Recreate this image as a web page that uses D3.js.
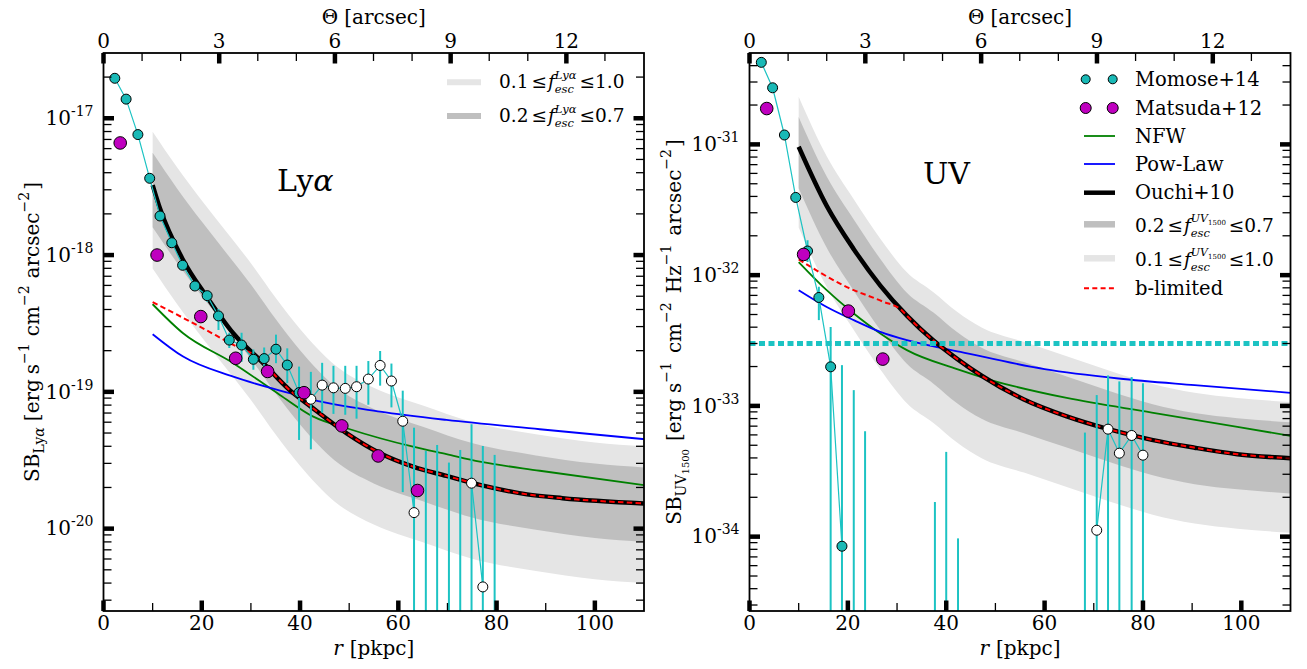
<!DOCTYPE html>
<html>
<head>
<meta charset="utf-8">
<script src="https://cdn.jsdelivr.net/npm/d3@7"></script>
<style>
    body { margin: 0; background: #fff; }
    svg { display: block; }
    text { font-family: "DejaVu Serif", serif; fill: #000; white-space: pre; }
</style>
</head>
<body>
<div id="chart"></div>
<script>

// Data
// ============================================

// arcsec -> pkpc conversion used for the top axis
var arcsecToKpc = 7.85;
var rMajor = [0, 20, 40, 60, 80, 100];
var rMinor = [10, 30, 50, 70, 90];
var thetaMajor = [0, 3, 6, 9, 12];
var thetaMinor = [1, 2, 4, 5, 7, 8, 10, 11, 13];

// escape fraction ranges of the shaded model bands
var fescWide = [0.1, 1.0];
var fescNarrow = [0.2, 0.7];

// ---- Ly-alpha panel ----
var lyaMomoseR = [2.3, 4.6, 7.0, 9.4, 11.5, 13.9, 16.1, 18.6, 21.1, 23.4, 25.6, 28.1, 30.5, 32.7, 35.1, 37.4, 39.8,
    42.2, 44.5, 46.8, 49.2, 51.5, 53.9, 56.3, 58.6, 60.9, 63.2, 65.6, 67.9, 70.3, 72.6, 74.9, 77.2, 79.6];
var lyaMomoseSB = [1.96e-17, 1.38e-17, 7.6e-18, 3.64e-18, 1.93e-18, 1.23e-18, 8.42e-19, 5.94e-19, 5.05e-19, 3.59e-19,
    2.39e-19, 2.20e-19, 1.73e-19, 1.75e-19, 2.05e-19, 1.57e-19, 9.87e-20,
    8.83e-20, 1.12e-19, 1.07e-19, 1.06e-19, 1.09e-19, 1.24e-19, 1.56e-19, 1.20e-19, 6.1e-20, 1.31e-20,
    null, null, null, null, 2.15e-20, 3.75e-21, null];
var lyaMomoseLo = [null, null, null, null, null, null, null, null, 4.56e-19, 2.83e-19, 2.09e-19, 1.66e-19, 1.45e-19,
    1.44e-19, 1.62e-19, 1.16e-19, 4.45e-20, 3.8e-20, 7.05e-20, 6.9e-20, 6.8e-20, 6.37e-20, 8.05e-20, 1.11e-19,
    7.7e-20, 1.85e-20, 0, 0, 0, 0, 0, 0, 0, 0];
var lyaMomoseHi = [null, null, null, null, null, null, null, null, 5.4e-19, 4.04e-19, 2.70e-19, 2.70e-19, 2.04e-19,
    2.11e-19, 2.62e-19, 2.08e-19, 1.53e-19, 1.40e-19, 1.63e-19, 1.55e-19, 1.55e-19, 1.55e-19, 1.68e-19, 1.99e-19,
    1.61e-19, 1.02e-19, 5.47e-20, 3.70e-20, 4.09e-20, 3.04e-20, 3.76e-20, 5.8e-20, 4.02e-20, 3.46e-20];
var lyaOpenFrom = 17;

var lyaMatsudaR = [3.4, 10.9, 19.8, 26.9, 33.4, 40.8, 48.5, 55.9, 63.9];
var lyaMatsudaSB = [6.6e-18, 1.0e-18, 3.55e-19, 1.76e-19, 1.41e-19, 9.86e-20, 5.64e-20, 3.40e-20, 1.90e-20];

var lyaOuchiR = [10, 11.5, 16.2, 21.0, 26.4, 32.5, 37.9, 42.2, 49.5, 56.3, 63.0, 69.8, 76.6, 86.2, 93.4, 110];
var lyaOuchiSB = [3.25e-18, 2.19e-18, 9.2e-19, 4.97e-19, 2.68e-19, 1.62e-19, 1.03e-19, 7.8e-20, 4.98e-20, 3.56e-20,
    2.84e-20, 2.43e-20, 2.09e-20, 1.78e-20, 1.67e-20, 1.53e-20];
var lyaBlimR = [10, 19.6, 27.8, 31.0, 32.5, 37.9, 42.2, 49.5, 56.3, 63.0, 69.8, 76.6, 86.2, 93.4, 110];
var lyaBlimSB = [4.52e-19, 3.0e-19, 2.08e-19, 1.83e-19, 1.62e-19, 1.03e-19, 7.8e-20, 4.98e-20, 3.56e-20, 2.84e-20,
    2.43e-20, 2.09e-20, 1.78e-20, 1.67e-20, 1.53e-20];
var lyaNfwR = [10, 16.2, 26.4, 35.9, 42.7, 49.5, 56.3, 63.0, 69.8, 76.6, 88.8, 110];
var lyaNfwSB = [4.37e-19, 2.68e-19, 1.62e-19, 9.5e-20, 6.59e-20, 5.42e-20, 4.58e-20, 3.97e-20, 3.50e-20, 3.09e-20,
    2.65e-20, 2.08e-20];
var lyaPowR = [10, 16.2, 26.4, 37.9, 42.7, 56.3, 69.8, 88.8, 110];
var lyaPowSB = [2.64e-19, 1.81e-19, 1.29e-19, 9.77e-20, 8.73e-20, 7.17e-20, 6.23e-20, 5.33e-20, 4.51e-20];
// upper edge of the models (f_esc = 1)
var lyaBandR = [10, 15, 20, 25, 30, 35, 40, 47, 55, 65, 75, 88, 100, 110];
var lyaBandTop = [7.98e-18, 4.37e-18, 2.51e-18, 1.48e-18, 8.71e-19, 4.90e-19, 2.88e-19, 1.58e-19, 1.07e-19, 7.94e-20,
    6.03e-20, 4.90e-20, 4.27e-20, 4.0e-20];

// ---- UV panel ----
var uvMomoseR = [2.4, 4.7, 7.1, 9.4, 11.8, 14.1, 16.5, 18.8, 21.2, 23.5, 37.7, 40.0, 42.4, 68.2, 70.6, 72.9, 75.2, 77.7, 80.0];
var uvMomoseSB = [4.24e-31, 2.71e-31, 1.18e-31, 3.93e-32, 1.53e-32, 6.75e-33, 1.99e-33, 8.45e-35, null, null, null,
    null, null, null, 1.12e-34, 6.64e-34, 4.35e-34, 5.94e-34, 4.20e-34];
var uvMomoseLo = [null, null, null, null, 1.26e-32, 4.53e-33, 0, 0, 0, 0, 0, 0, 0, 0, 0, 0, 0, 0, 0];
var uvMomoseHi = [null, null, null, null, 1.85e-32, 8.15e-33, 4.02e-33, 2.05e-33, 1.32e-33, 6.4e-34, 1.84e-34, 4.45e-34,
    9.7e-35, 6.25e-34, 1.21e-33, 1.71e-33, 1.54e-33, 1.66e-33, 1.49e-33];
var uvOpenFrom = 14;

var uvMatsudaR = [3.5, 11.0, 20.1, 27.1];
var uvMatsudaSB = [1.88e-31, 1.44e-32, 5.31e-33, 2.28e-33];

var uvOuchiR = [10, 15.7, 21.2, 26.6, 32.0, 37.4, 42.2, 47.2, 55.8, 64.5, 73.2, 81.8, 90.5, 99.2, 110];
var uvOuchiSB = [9.6e-32, 3.39e-32, 1.58e-32, 8.32e-33, 4.90e-33, 3.16e-33, 2.29e-33, 1.70e-33, 1.12e-33, 8.32e-34,
    6.61e-34, 5.50e-34, 4.79e-34, 4.27e-34, 3.98e-34];
var uvBlimR = [10, 19.8, 27.0, 31.0, 32.0, 37.4, 42.2, 47.2, 55.8, 64.5, 73.2, 81.8, 90.5, 99.2, 110];
var uvBlimSB = [1.32e-32, 8.1e-33, 6.3e-33, 5.37e-33, 4.90e-33, 3.16e-33, 2.29e-33, 1.70e-33, 1.12e-33, 8.32e-34,
    6.61e-34, 5.50e-34, 4.79e-34, 4.27e-34, 3.98e-34];
var uvNfwR = [10, 15.7, 21.2, 26.6, 32.0, 42.2, 49.8, 64.5, 81.8, 99.2, 110];
var uvNfwSB = [1.26e-32, 7.67e-33, 5.09e-33, 3.58e-33, 2.67e-33, 1.91e-33, 1.55e-33, 1.15e-33, 8.9e-34, 6.9e-34, 5.9e-34];
var uvPowR = [10, 15.7, 21.2, 26.6, 32.0, 42.9, 60, 75, 90.5, 110];
var uvPowSB = [7.67e-33, 5.71e-33, 4.53e-33, 3.68e-33, 3.18e-33, 2.59e-33, 1.91e-33, 1.62e-33, 1.44e-33, 1.26e-33];
var uvBandR = [10, 15.7, 21.2, 26.6, 32.0, 37.4, 42.2, 47.2, 55.8, 64.5, 73.2, 81.8, 90.5, 99.2, 110];
var uvBandTop = [2.31e-31, 8.1e-32, 3.8e-32, 1.9e-32, 1.05e-32, 7.4e-33, 5.25e-33, 3.98e-33, 3.09e-33, 2.4e-33,
    1.86e-33, 1.48e-33, 1.26e-33, 1.15e-33, 1.07e-33];
// detection limit (dotted line)
var uvLimitSB = 3.0e-33;

// Colours
// ============================================
var cCyan = "#19b9b6";
var cCyanLine = "#1cc3c3";
var cMagenta = "#bf00bf";
var cGreen = "#008000";
var cBlue = "#0000ff";
var cRed = "#ff0000";
var cLight = "#e5e5e5";
var cDark = "#bfbfbf";

// Set up the figure
// ============================================
var svgWidth = 1307;
var svgHeight = 669;
var plotTop = 53;
var plotBottom = 611;

var svg = d3.select("#chart")
    .append("svg")
    .attr("width", svgWidth)
    .attr("height", svgHeight);

// lay out a row of text runs (sub/superscripts) measured with the browser
function mathText(parent, x, y, parts, anchor, rot) {
    var grp = parent.append("g")
        .attr("transform", "translate(" + x + "," + y + ")" + (rot ? " rotate(" + rot + ")" : ""));
    var pos = 0, mark = 0, items = [];
    parts.forEach(function(p) {
        if (p.gap) { pos += p.gap; return; }
        var t = grp.append("text")
            .attr("font-size", p.s || 20)
            .attr("y", p.dy || 0)
            .text(p.t);
        if (p.it) t.attr("font-style", "italic");
        var w = t.node().getComputedTextLength();
        var start = p.stack ? mark : pos;
        if (p.mark) mark = start;
        t.attr("x", start);
        pos = Math.max(pos, start + w);
        items.push(t);
    });
    var shift = anchor === "middle" ? -pos / 2 : (anchor === "end" ? -pos : 0);
    items.forEach(function(t) { t.attr("x", +t.attr("x") + shift); });
    return grp;
}

function zip(rs, vs) {
    return rs.map(function(r, i) { return { r: r, v: vs[i] }; });
}

// Draw one panel
// ============================================
function drawPanel(p) {

    var xScale = d3.scaleLinear().domain([0, 110]).range([p.left, p.right]);
    var yScale = d3.scaleLog().domain(p.yDomain).range([plotBottom, plotTop]);
    var thetaScale = d3.scaleLinear().domain([0, 110 / arcsecToKpc]).range([p.left, p.right]);

    svg.append("clipPath").attr("id", "clip-" + p.id)
        .append("rect")
        .attr("x", p.left).attr("y", plotTop)
        .attr("width", p.right - p.left).attr("height", plotBottom - plotTop);

    var g = svg.append("g").attr("clip-path", "url(#clip-" + p.id + ")");

    // shaded model bands
    var bandPts = zip(p.bandR, p.bandTop);
    function band(f, color) {
        g.append("path").datum(bandPts)
            .attr("fill", color)
            .attr("d", d3.area()
                .x(function(d) { return xScale(d.r); })
                .y0(function(d) { return yScale(d.v * f[0]); })
                .y1(function(d) { return yScale(d.v * f[1]); })
                .curve(d3.curveMonotoneX));
    }
    band(fescWide, cLight);
    band(fescNarrow, cDark);

    // model curves
    function curve(rs, vs, color, width, dash) {
        g.append("path").datum(zip(rs, vs))
            .attr("fill", "none")
            .attr("stroke", color)
            .attr("stroke-width", width)
            .attr("stroke-dasharray", dash || null)
            .attr("d", d3.line()
                .x(function(d) { return xScale(d.r); })
                .y(function(d) { return yScale(d.v); })
                .curve(d3.curveMonotoneX));
    }
    curve(p.nfwR, p.nfwSB, cGreen, 1.8);
    curve(p.powR, p.powSB, cBlue, 1.8);
    curve(p.ouchiR, p.ouchiSB, "#000", 4.5);
    curve(p.blimR, p.blimSB, cRed, 2, "5.5,3.3");

    if (p.limit) {
        g.append("line")
            .attr("x1", p.left).attr("x2", p.right)
            .attr("y1", yScale(p.limit)).attr("y2", yScale(p.limit))
            .attr("stroke", cCyanLine)
            .attr("stroke-width", 5)
            .attr("stroke-dasharray", "6,3.5");
    }

    // Momose+14 points with error bars
    var pts = p.momR.map(function(r, i) {
        return { r: r, v: p.momSB[i], lo: p.momLo[i], hi: p.momHi[i], open: i >= p.openFrom };
    });

    g.append("g").selectAll("line")
        .data(pts.filter(function(d) { return d.hi !== null; }))
        .enter()
        .append("line")
        .attr("x1", function(d) { return xScale(d.r); })
        .attr("x2", function(d) { return xScale(d.r); })
        .attr("y1", function(d) { return yScale(d.hi); })
        .attr("y2", function(d) { return d.lo > 0 ? yScale(d.lo) : plotBottom + 5; })
        .attr("stroke", cCyanLine)
        .attr("stroke-width", 2);

    g.append("path").datum(pts)
        .attr("fill", "none")
        .attr("stroke", cCyanLine)
        .attr("stroke-width", 1.2)
        .attr("d", d3.line()
            .defined(function(d) { return d.v !== null; })
            .x(function(d) { return xScale(d.r); })
            .y(function(d) { return yScale(d.v); }));

    g.append("g").selectAll("circle")
        .data(pts.filter(function(d) { return d.v !== null; }))
        .enter()
        .append("circle")
        .attr("cx", function(d) { return xScale(d.r); })
        .attr("cy", function(d) { return yScale(d.v); })
        .attr("r", 5)
        .attr("fill", function(d) { return d.open ? "#fff" : cCyan; })
        .attr("stroke", "#000")
        .attr("stroke-width", 1);

    // Matsuda+12 points
    g.append("g").selectAll("circle")
        .data(zip(p.matR, p.matSB))
        .enter()
        .append("circle")
        .attr("cx", function(d) { return xScale(d.r); })
        .attr("cy", function(d) { return yScale(d.v); })
        .attr("r", 6.3)
        .attr("fill", cMagenta)
        .attr("stroke", "#000")
        .attr("stroke-width", 1);

    // Frame and ticks
    // ============================================
    var ax = svg.append("g");
    ax.append("rect")
        .attr("x", p.left).attr("y", plotTop)
        .attr("width", p.right - p.left).attr("height", plotBottom - plotTop)
        .attr("fill", "none").attr("stroke", "#000").attr("stroke-width", 1.8);

    function vTicks(vals, scale, len, width, atTop) {
        ax.append("g").selectAll("line").data(vals).enter().append("line")
            .attr("x1", function(d) { return scale(d); })
            .attr("x2", function(d) { return scale(d); })
            .attr("y1", atTop ? plotTop : plotBottom)
            .attr("y2", atTop ? plotTop + len : plotBottom - len)
            .attr("stroke", "#000").attr("stroke-width", width);
    }
    vTicks(rMajor, xScale, 10.5, 4.5, false);
    vTicks(rMinor, xScale, 8, 1.3, false);
    vTicks(thetaMajor, thetaScale, 10.5, 4.5, true);
    vTicks(thetaMinor, thetaScale, 8, 1.3, true);

    var lo = Math.floor(Math.log10(p.yDomain[0]));
    var hi = Math.ceil(Math.log10(p.yDomain[1]));
    var yMajor = [], yMinor = [];
    for (var e = lo; e <= hi; e++) {
        var base = Math.pow(10, e);
        if (base >= p.yDomain[0] && base <= p.yDomain[1]) yMajor.push(e);
        for (var m = 2; m <= 9; m++) {
            var v = m * base;
            if (v > p.yDomain[0] && v < p.yDomain[1]) yMinor.push(v);
        }
    }
    function hTicks(vals, len, width) {
        [p.left, p.right].forEach(function(x0) {
            var dir = x0 === p.left ? 1 : -1;
            ax.append("g").selectAll("line").data(vals).enter().append("line")
                .attr("x1", x0).attr("x2", x0 + dir * len)
                .attr("y1", function(d) { return yScale(d); })
                .attr("y2", function(d) { return yScale(d); })
                .attr("stroke", "#000").attr("stroke-width", width);
        });
    }
    hTicks(yMajor.map(function(e) { return Math.pow(10, e); }), 10.5, 4.5);
    hTicks(yMinor, 8, 1.3);

    // tick labels
    rMajor.forEach(function(d) {
        svg.append("text").attr("x", xScale(d)).attr("y", 630)
            .attr("text-anchor", "middle").attr("font-size", 20).text(d);
    });
    thetaMajor.forEach(function(d) {
        svg.append("text").attr("x", thetaScale(d)).attr("y", 47.5)
            .attr("text-anchor", "middle").attr("font-size", 20).text(d);
    });
    yMajor.forEach(function(e) {
        mathText(svg, p.left - 10, yScale(Math.pow(10, e)) + 6.7,
            [{ t: "10", s: 20 }, { t: "-" + Math.abs(e), s: 14, dy: -9 }], "end");
    });

    // axis titles
    var xc = (p.left + p.right) / 2;
    mathText(svg, xc, 23.5, [{ t: "\u0398", s: 20 }, { gap: 6 }, { t: "[arcsec]", s: 20 }], "middle");
    mathText(svg, xc, 655, [{ t: "r", s: 20, it: 1 }, { gap: 7 }, { t: "[pkpc]", s: 20 }], "middle");
    mathText(svg, p.yLabelX, (plotTop + plotBottom) / 2, p.yLabel, "middle", -90);

    // panel name
    mathText(svg, p.nameX, p.nameY, p.name, "start");

    return { x: xScale, y: yScale };
}

// Panel definitions
// ============================================
var sup = function(t) { return { t: t, s: 14, dy: -10 }; };

drawPanel({
    id: "lya", left: 103.5, right: 644, yDomain: [2.5e-21, 3e-17],
    momR: lyaMomoseR, momSB: lyaMomoseSB, momLo: lyaMomoseLo, momHi: lyaMomoseHi, openFrom: lyaOpenFrom,
    matR: lyaMatsudaR, matSB: lyaMatsudaSB,
    ouchiR: lyaOuchiR, ouchiSB: lyaOuchiSB, blimR: lyaBlimR, blimSB: lyaBlimSB,
    nfwR: lyaNfwR, nfwSB: lyaNfwSB, powR: lyaPowR, powSB: lyaPowSB,
    bandR: lyaBandR, bandTop: lyaBandTop,
    yLabelX: 38.5,
    yLabel: [{ t: "SB", s: 20 }, { t: "Ly", s: 14, dy: 5 }, { t: "\u03b1", s: 14, dy: 5, it: 1 }, { gap: 6 },
        { t: "[erg", s: 20 }, { gap: 5 }, { t: "s", s: 20 }, sup("\u22121"), { gap: 7 },
        { t: "cm", s: 20 }, sup("\u22122"), { gap: 7 }, { t: "arcsec", s: 20 }, sup("\u22122"), { gap: 2 }, { t: "]", s: 20 }],
    nameX: 277, nameY: 191,
    name: [{ t: "Ly", s: 30 }, { t: "\u03b1", s: 30, it: 1 }]
});

drawPanel({
    id: "uv", left: 749.5, right: 1290.5, yDomain: [2.7e-35, 5e-31],
    momR: uvMomoseR, momSB: uvMomoseSB, momLo: uvMomoseLo, momHi: uvMomoseHi, openFrom: uvOpenFrom,
    matR: uvMatsudaR, matSB: uvMatsudaSB,
    ouchiR: uvOuchiR, ouchiSB: uvOuchiSB, blimR: uvBlimR, blimSB: uvBlimSB,
    nfwR: uvNfwR, nfwSB: uvNfwSB, powR: uvPowR, powSB: uvPowSB,
    bandR: uvBandR, bandTop: uvBandTop, limit: uvLimitSB,
    yLabelX: 681,
    yLabel: [{ t: "SB", s: 20 }, { t: "UV", s: 14, dy: 5 }, { t: "1500", s: 10, dy: 8 }, { gap: 8 },
        { t: "[erg", s: 20 }, { gap: 6 }, { t: "s", s: 20 }, sup("\u22121"), { gap: 9 },
        { t: "cm", s: 20 }, sup("\u22122"), { gap: 9 }, { t: "Hz", s: 20 }, sup("\u22121"), { gap: 9 },
        { t: "arcsec", s: 20 }, sup("\u22122"), { gap: 2 }, { t: "]", s: 20 }],
    nameX: 923, nameY: 184,
    name: [{ t: "UV", s: 30 }]
});

// Legends
// ============================================
var fs = 19.5;
var fm = 18.5;

// left panel: the two shaded bands
[{ y: 82.3, c: cLight, lo: "0.1", hi: "1.0" }, { y: 116, c: cDark, lo: "0.2", hi: "0.7" }].forEach(function(row) {
    svg.append("line").attr("x1", 447).attr("x2", 481).attr("y1", row.y).attr("y2", row.y)
        .attr("stroke", row.c).attr("stroke-width", 6);
    mathText(svg, 499, row.y + 6, [{ t: row.lo, s: fm }, { gap: 3 }, { t: "\u2264", s: fm }, { gap: 1 },
        { t: "f", s: fm, it: 1 }, { t: "Ly\u03b1", s: 11.5, dy: -9, it: 1, mark: 1 }, { t: "esc", s: 11.5, dy: 5, it: 1, stack: 1 },
        { gap: 3 }, { t: "\u2264" + row.hi, s: fm }], "start");
});

// right panel
var lgX = 1135;
function legendMarkers(y, fill, r) {
    [1085.7, 1112.7].forEach(function(x) {
        svg.append("circle").attr("cx", x).attr("cy", y).attr("r", r)
            .attr("fill", fill).attr("stroke", "#000").attr("stroke-width", 1);
    });
}
function legendLine(y, color, width, dash) {
    svg.append("line").attr("x1", 1084).attr("x2", 1115).attr("y1", y).attr("y2", y)
        .attr("stroke", color).attr("stroke-width", width).attr("stroke-dasharray", dash || null);
}
function legendLabel(y, txt) {
    svg.append("text").attr("x", lgX).attr("y", y + 6.5).attr("font-size", fs).text(txt);
}
function uvFesc(y, lo, hi) {
    mathText(svg, lgX, y + 8, [{ t: lo, s: fm }, { gap: 3 }, { t: "\u2264", s: fm }, { gap: 1 },
        { t: "f", s: fm, it: 1 }, { t: "UV", s: 11, dy: -10, it: 1, mark: 1 }, { t: "1500", s: 7, dy: -7 },
        { t: "esc", s: 11.5, dy: 5, it: 1, stack: 1 }, { gap: 3 }, { t: "\u2264" + hi, s: fm }], "start");
}

legendMarkers(79.3, cCyan, 4.5);
legendLabel(79.3, "Momose+14");
legendMarkers(108, cMagenta, 5.5);
legendLabel(108, "Matsuda+12");
legendLine(136, cGreen, 1.8);
legendLabel(136, "NFW");
legendLine(164, cBlue, 1.8);
legendLabel(164, "Pow-Law");
legendLine(192.7, "#000", 4.5);
legendLabel(192.7, "Ouchi+10");
legendLine(224.3, cDark, 6.5);
uvFesc(224.3, "0.2", "0.7");
legendLine(258.3, cLight, 6.5);
uvFesc(258.3, "0.1", "1.0");
legendLine(288.3, cRed, 2, "5,3.3");
legendLabel(288.3, "b-limited");

</script>
</body>
</html>
